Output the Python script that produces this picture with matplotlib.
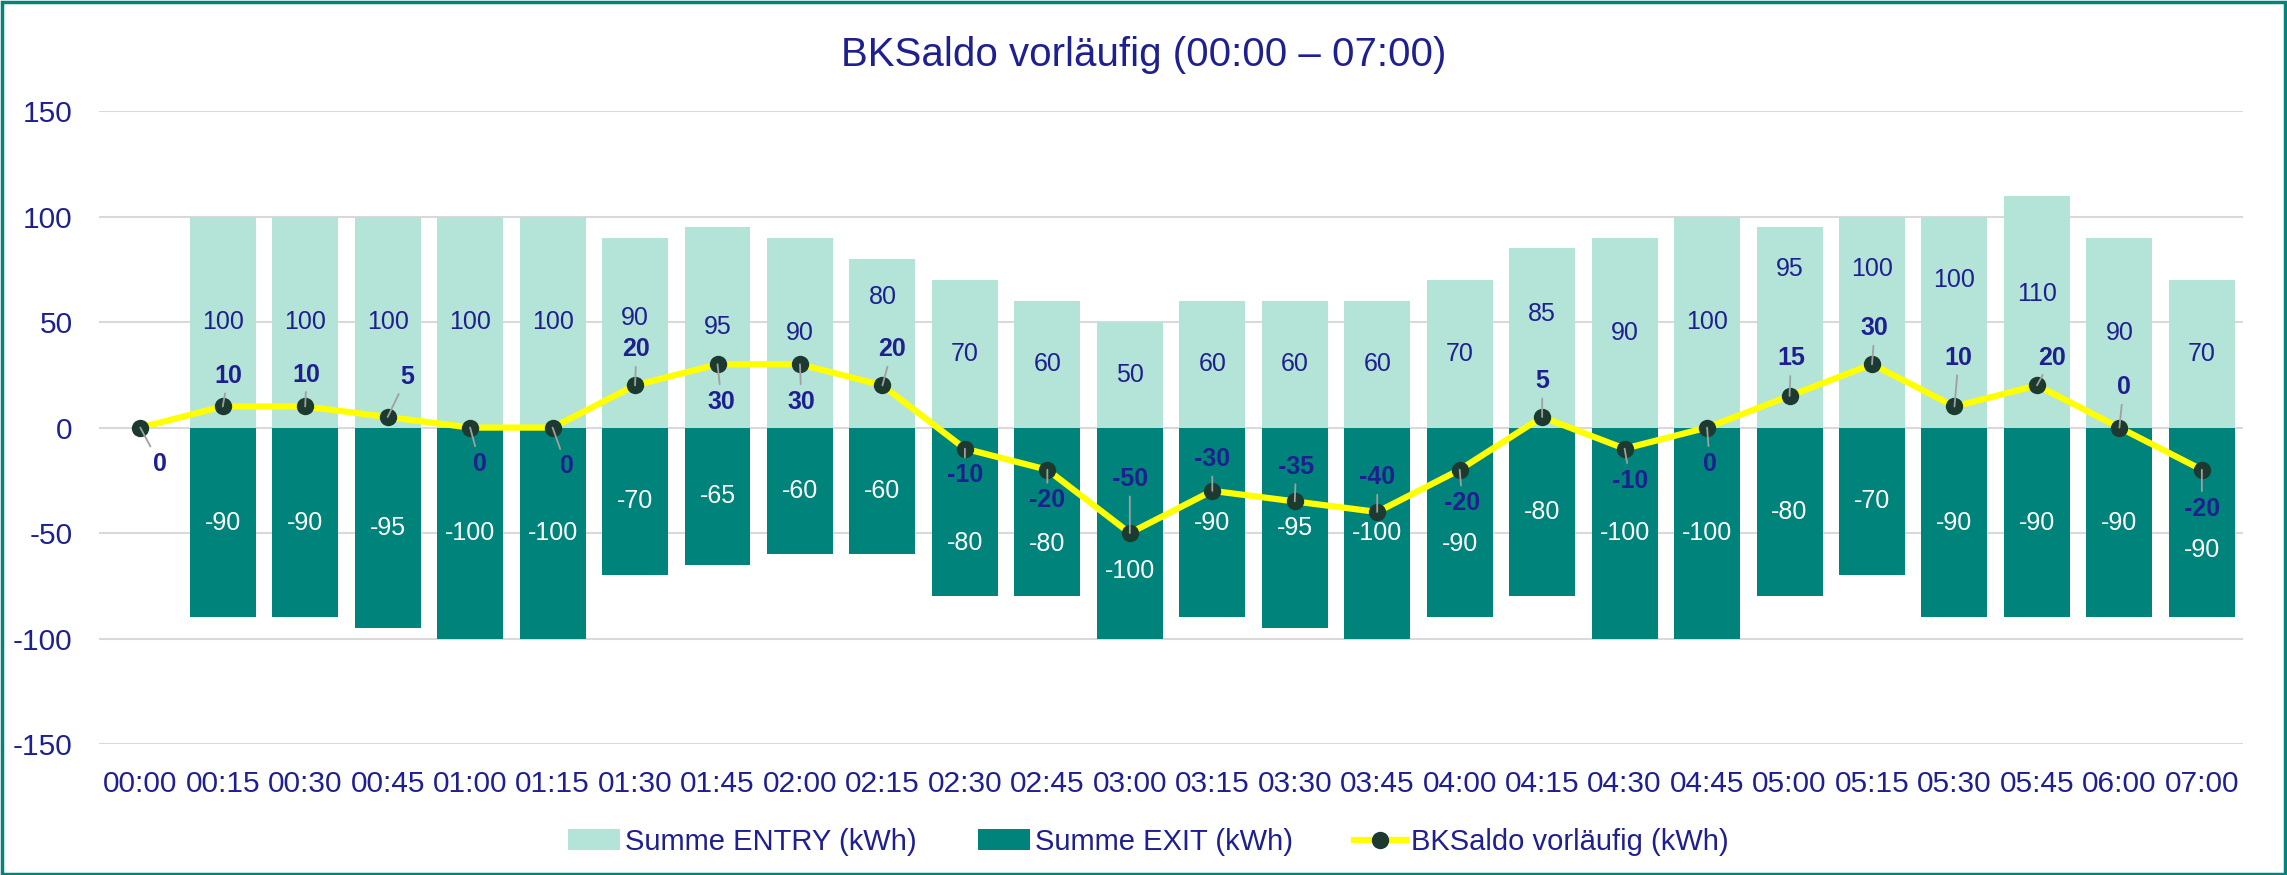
import numpy as np
import matplotlib
matplotlib.use("Agg")
import matplotlib.pyplot as plt
from matplotlib.patches import Rectangle

# data
times = ["00:00", "00:15", "00:30", "00:45", "01:00", "01:15", "01:30", "01:45",
         "02:00", "02:15", "02:30", "02:45", "03:00", "03:15", "03:30", "03:45",
         "04:00", "04:15", "04:30", "04:45", "05:00", "05:15", "05:30", "05:45",
         "06:00", "07:00"]
entry = [np.nan, 100, 100, 100, 100, 100, 90, 95, 90, 80, 70, 60, 50, 60, 60, 60,
         70, 85, 90, 100, 95, 100, 100, 110, 90, 70]
exit_ = [np.nan, -90, -90, -95, -100, -100, -70, -65, -60, -60, -80, -80, -100, -90,
         -95, -100, -90, -80, -100, -100, -80, -70, -90, -90, -90, -90]
saldo = [0, 10, 10, 5, 0, 0, 20, 30, 30, 20, -10, -20, -50, -30, -35, -40,
         -20, 5, -10, 0, 15, 30, 10, 20, 0, -20]

# label placement (Excel "best fit" look), offsets in points
saldo_offsets = [(14, -26), (4, 22), (1, 23), (14, 29), (7, -26), (10, -28), (1, 26),
                 (3, -27), (1, -27), (7, 26), (0, -19), (0, -22), (0, 39), (0, 23),
                 (1, 25), (0, 25), (2, -24), (0, 26), (4, -23), (2, -26), (1, 27),
                 (2, 26), (3, 35), (11, 20), (3, 29), (0, -28)]
entry_label_y = {6: 52, 9: 62, 17: 53.6, 20: 75, 21: 75, 22: 70, 23: 63.5}
exit_label_y = {10: -54.5, 11: -55, 12: -68, 16: -55, 25: -58}

NAVY = "#1F2090"
LIGHT = "#B4E3D8"
TEAL = "#00837A"

plt.rcParams['font.family'] = ['Liberation Sans', 'DejaVu Sans']
plt.rcParams['axes.unicode_minus'] = False

fig = plt.figure(figsize=(22.87, 8.75), dpi=100)
ax = fig.add_axes([0.0433, 0.1497, 0.9375, 0.7233])

x = np.arange(len(times))
ax.bar(x, entry, width=0.8, color=LIGHT, zorder=2, label="Summe ENTRY (kWh)")
ax.bar(x, exit_, width=0.8, color=TEAL, zorder=2, label="Summe EXIT (kWh)")
ax.plot(x, saldo, color="#FFFF00", lw=4.5, marker="o", ms=11.5,
        mfc="#1C3A30", mec="#1C3A30", zorder=4, label="BKSaldo vorläufig (kWh)")

for i in range(len(times)):
    if not np.isnan(entry[i]):
        ax.text(i, entry_label_y.get(i, entry[i] / 2), f"{entry[i]:.0f}",
                ha="center", va="center", color=NAVY, fontsize=18, zorder=3)
    if not np.isnan(exit_[i]):
        ax.text(i, exit_label_y.get(i, exit_[i] / 2), f"{exit_[i]:.0f}",
                ha="center", va="center", color="white", fontsize=18, zorder=3)
    dx, dy = saldo_offsets[i]
    ax.annotate(f"{saldo[i]}", (i, saldo[i]), xytext=(dx, dy), textcoords="offset points",
                ha="center", va="center", color=NAVY, fontsize=18, fontweight="bold",
                zorder=5,
                arrowprops=dict(arrowstyle="-", color="#A0A0A0", lw=1.3,
                                shrinkA=2, shrinkB=0))

ax.set_xlim(-0.5, len(times) - 0.5)
ax.set_ylim(-150, 150)
ax.set_yticks(np.arange(-150, 151, 50))
ax.set_xticks(x)
ax.set_xticklabels(times)
ax.tick_params(axis="both", length=0, labelsize=21.5, labelcolor=NAVY)
ax.tick_params(axis="x", pad=19)
ax.tick_params(axis="y", pad=19)
ax.grid(axis="y", color="#D9D9D9", lw=1.5, zorder=0)
ax.set_axisbelow(True)
for s in ax.spines.values():
    s.set_visible(False)

fig.text(0.5, 0.937, "BKSaldo vorläufig (00:00 – 07:00)", ha="center", va="center",
         fontsize=29, color=NAVY)

handles, labels = ax.get_legend_handles_labels()
order = [1, 2, 0]
leg = fig.legend([handles[k] for k in order], [labels[k] for k in order],
                 loc="center", bbox_to_anchor=(0.502, 0.038), ncol=3, frameon=False,
                 fontsize=21, handlelength=1.8, handleheight=0.7,
                 handletextpad=0.15, columnspacing=2.1)
for t in leg.get_texts():
    t.set_color(NAVY)

fig.patches.append(Rectangle((0.001, 0.001), 0.998, 0.997, transform=fig.transFigure,
                             fill=False, edgecolor="#00857A", lw=2.5))

fig.savefig("out.png", dpi=100)
